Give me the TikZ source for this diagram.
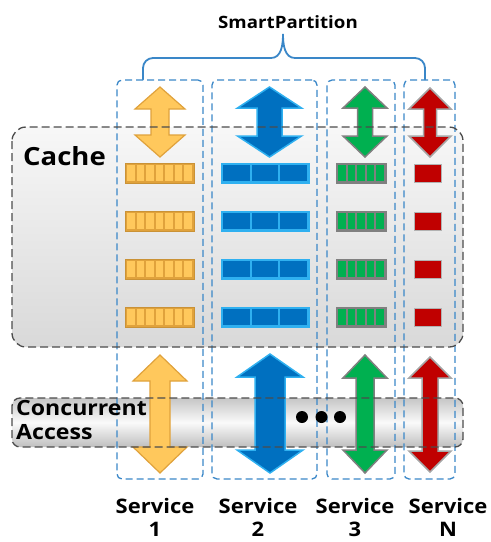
\documentclass[tikz,border=0pt]{standalone}
\usepackage{fontspec}
\setmainfont{Open Sans}
\definecolor{pblue}{HTML}{3A87C8}
\definecolor{orfill}{HTML}{FFC85C}
\definecolor{ordraw}{HTML}{E0A23C}
\definecolor{bfill}{HTML}{0070C0}
\definecolor{bdraw}{HTML}{2FB0F0}
\definecolor{gfill}{HTML}{00B050}
\definecolor{rfill}{HTML}{C00000}
\definecolor{gedge}{HTML}{808080}
\newcommand\dblarr[7]{\draw[#1] (#2,#3) -- ({#2+#5},{#3+#7}) -- ({#2+#6},{#3+#7}) -- ({#2+#6},{#4-#7}) -- ({#2+#5},{#4-#7}) -- (#2,#4) -- ({#2-#5},{#4-#7}) -- ({#2-#6},{#4-#7}) -- ({#2-#6},{#3+#7}) -- ({#2-#5},{#3+#7}) -- cycle;}
% block: style fill, border, x1, x2, yc, cells
\newcommand\cellblock[7]{%
  \fill[#1] (#3,{#5-10}) rectangle (#4,{#5+10});
  \foreach \k in {1,...,#6}{\fill[#2] ({#3+2+(\k-1)*(#4-#3-2)/#6},{#5-8}) rectangle ({#3+\k*(#4-#3-2)/#6},{#5+8});}
  \draw[#7] (#3,{#5-10}) rectangle (#4,{#5+10});}
\begin{document}
\begin{tikzpicture}[x=1pt,y=-1pt,
  col/.style={draw=pblue, line width=1.3pt, dash pattern=on 7pt off 4pt, rounded corners=5pt, inner sep=0pt},
  grayborder/.style={draw=black!70, line width=1.3pt, dash pattern=on 8pt off 4pt},
  lbl/.style={font=\bfseries\fontsize{20}{23}\selectfont, align=center, inner sep=0pt},
  orarr/.style={fill=orfill, draw=ordraw, line width=1.2pt, line join=miter},
  blarr/.style={fill=bfill, draw=bdraw, line width=1.5pt},
  grarr/.style={fill=gfill, draw=gedge, line width=1.5pt},
  rdarr/.style={fill=rfill, draw=gray!70, line width=1.5pt}]
\path[use as bounding box] (0,0) rectangle (491,542);
% backgrounds
\path[top color=gray!6, bottom color=gray!30, rounded corners=14pt] (12,127) rectangle (463,347);
\path[top color=gray!45, bottom color=gray!50, middle color=gray!4, rounded corners=8pt] (12,398) rectangle (463,447);
% partition columns
\node[col, minimum width=86pt, minimum height=399pt] (col1) at (160,279.5) {};
\node[col, minimum width=105pt, minimum height=399pt] (col2) at (264.5,279.5) {};
\node[col, minimum width=68pt, minimum height=399pt] (col3) at (361,279.5) {};
\node[col, minimum width=51pt, minimum height=399pt] (col4) at (429.5,279.5) {};
% top arrows
\dblarr{orarr}{160}{87}{157}{25}{9}{22}
\dblarr{blarr}{269.5}{87}{157}{32}{12.5}{21}
\dblarr{grarr}{365}{87}{157}{22}{7.5}{21}
\dblarr{rdarr}{430}{88}{157}{21}{6.5}{21}
% bottom arrows
\dblarr{orarr}{160}{355}{473}{27}{10}{26}
\dblarr{blarr}{270}{354}{473}{33}{15}{23}
\dblarr{grarr}{365}{355}{473}{22}{9}{23}
\dblarr{rdarr}{430}{357}{472}{21}{8}{21}
% blocks
\foreach \y in {173,221,269,317}{
  \cellblock{ordraw}{orfill}{125}{194}{\y}{7}{draw=ordraw!90!black,line width=0.8pt}
  \cellblock{bdraw}{bfill}{221}{309}{\y}{3}{draw=bdraw,line width=0.8pt}
  \cellblock{gedge}{gfill}{336}{386}{\y}{5}{draw=gedge,line width=0.8pt}
  \fill[rfill, draw=gray!60, line width=1pt] (414,{\y-9}) rectangle (441,{\y+9});
}
% gray dashed borders
\draw[grayborder, rounded corners=14pt] (12,127) rectangle (463,347);
\draw[grayborder, rounded corners=8pt] (12,398) rectangle (463,447);
% texts
\node[font=\bfseries\fontsize{25}{28}\selectfont, anchor=west, inner sep=0pt] (cache) at (23,156) {\scalebox{1.1}[1]{Cache}};
\node[font=\fontsize{21}{24}\selectfont\bfseries, anchor=north west, align=left, inner sep=0pt] (conc) at (16,400) {\scalebox{1.1}[1]{Concurrent}\\\scalebox{1.1}[1]{Access}};
\foreach \x in {302,321.5,340}{\fill (\x,417) circle (6pt);}
\node[lbl] (s1) at (155,517) {\scalebox{1.1}[1]{Service}\\\scalebox{1.1}[1]{1}};
\node[lbl] (s2) at (258,517) {\scalebox{1.1}[1]{Service}\\\scalebox{1.1}[1]{2}};
\node[lbl] (s3) at (355,517) {\scalebox{1.1}[1]{Service}\\\scalebox{1.1}[1]{3}};
\node[lbl] (s4) at (448,517) {\scalebox{1.1}[1]{Service}\\\scalebox{1.1}[1]{N}};
\node[font=\bfseries\fontsize{17}{20}\selectfont, inner sep=0pt] (title) at (288,22) {\scalebox{1.1}[1]{SmartPartition}};
% brace
\draw[pblue, line width=1.8pt, line cap=round] (col1.north -| 143,0) -- (143,68) to[out=90,in=180] (153,58) -- (271,58) to[out=0,in=-90] (283,34) to[out=-90,in=180] (295,58) -- (415,58) to[out=0,in=90] (425,68) -- (col4.north -| 425,0);
\end{tikzpicture}
\end{document}
